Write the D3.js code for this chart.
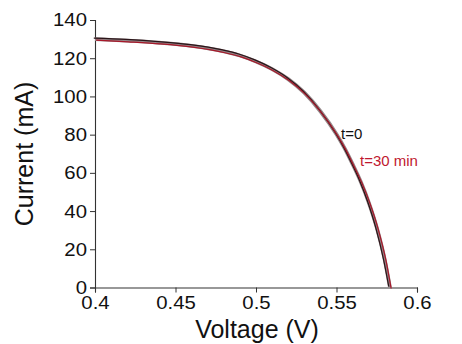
<!DOCTYPE html>
<html>
<head>
<meta charset="utf-8">
<script src="https://cdn.jsdelivr.net/npm/d3@7"></script>
<style>
  body { margin: 0; background: #fff; }
  text { font-family: "Liberation Sans", Arial, sans-serif; fill: #111; }
</style>
</head>
<body>
<svg id="chart" width="462" height="344"></svg>
<script>
// I-V curve
var voltage = [0.40, 0.42, 0.44, 0.46, 0.48, 0.49, 0.50, 0.51, 0.52, 0.53, 0.54, 0.55, 0.555, 0.56, 0.565, 0.57, 0.575, 0.58, 0.5832];
var current0 = [130, 129.3, 128.2, 126.6, 123.8, 121.7, 118.6, 114.6, 109.4, 102.3, 92.6, 80.5, 73.2, 64.8, 55.6, 44.6, 31.2, 14.0, 0];
var current30 = [130, 129.1, 128.0, 126.3, 123.4, 121.2, 118.0, 114.0, 108.7, 101.6, 91.9, 79.9, 72.7, 64.3, 55.3, 44.6, 31.5, 14.6, 0];
var xTicks = [0.4, 0.45, 0.5, 0.55, 0.6];
var yTicks = [0, 20, 40, 60, 80, 100, 120, 140];

var svg = d3.select("#chart");
var mLeft = 95, mRight = 417, mTop = 20, mBottom = 287.5;

var x = d3.scaleLinear().domain([0.4, 0.6]).range([mLeft, mRight]);
var y = d3.scaleLinear().domain([0, 140]).range([mBottom, mTop]);

var xAxis = svg.append("g")
    .attr("transform", "translate(0," + mBottom + ")")
    .call(d3.axisBottom(x).tickValues(xTicks).tickSize(5).tickPadding(3)
        .tickFormat(function (d) { return String(+d.toFixed(2)); }));
var yAxis = svg.append("g")
    .attr("transform", "translate(" + mLeft + ",0)")
    .call(d3.axisLeft(y).tickValues(yTicks).tickSize(5).tickPadding(3));

[xAxis, yAxis].forEach(function (g) {
    g.select(".domain").attr("stroke", "#333").attr("stroke-width", 1.1);
    g.selectAll(".tick line").attr("stroke", "#333");
    g.selectAll(".tick text").style("font-size", "18.5px").attr("fill", "#111");
});
// tick labels in the original are a little wider
xAxis.selectAll(".tick text").attr("transform", "scale(1.1,1)");
yAxis.selectAll(".tick text").each(function () {
    var t = d3.select(this);
    var xx = +t.attr("x");
    t.attr("transform", "translate(" + xx + ",0) scale(1.1,1)").attr("x", 0);
});

var line = d3.line().x(function (d, i) { return x(voltage[i]); }).y(function (d) { return y(d); }).curve(d3.curveMonotoneX);

// grey band between the two traces
svg.append("path").datum(current0.map(function (c, i) { return (c + current30[i]) / 2; }))
    .attr("d", line).attr("fill", "none").attr("stroke", "#948688").attr("stroke-width", 3.8);
svg.append("path").datum(current0)
    .attr("d", line).attr("fill", "none").attr("stroke", "#2a1418").attr("stroke-width", 1.2)
    .attr("transform", "translate(-1.2,-1)");
svg.append("path").datum(current30)
    .attr("d", line).attr("fill", "none").attr("stroke", "#a8182a").attr("stroke-width", 1.2)
    .attr("transform", "translate(1.2,1)");

svg.append("text").attr("x", 341).attr("y", 139).style("font-size", "15px").text("t=0");
svg.append("text").attr("x", 360).attr("y", 166).style("font-size", "15px")
    .style("fill", "#c0182f").text("t=30 min");

svg.append("text").attr("x", 257).attr("y", 338).attr("text-anchor", "middle")
    .style("font-size", "25px").text("Voltage (V)");
svg.append("text").attr("transform", "translate(33,154) rotate(-90)").attr("text-anchor", "middle")
    .style("font-size", "25px").text("Current (mA)");
</script>
</body>
</html>
